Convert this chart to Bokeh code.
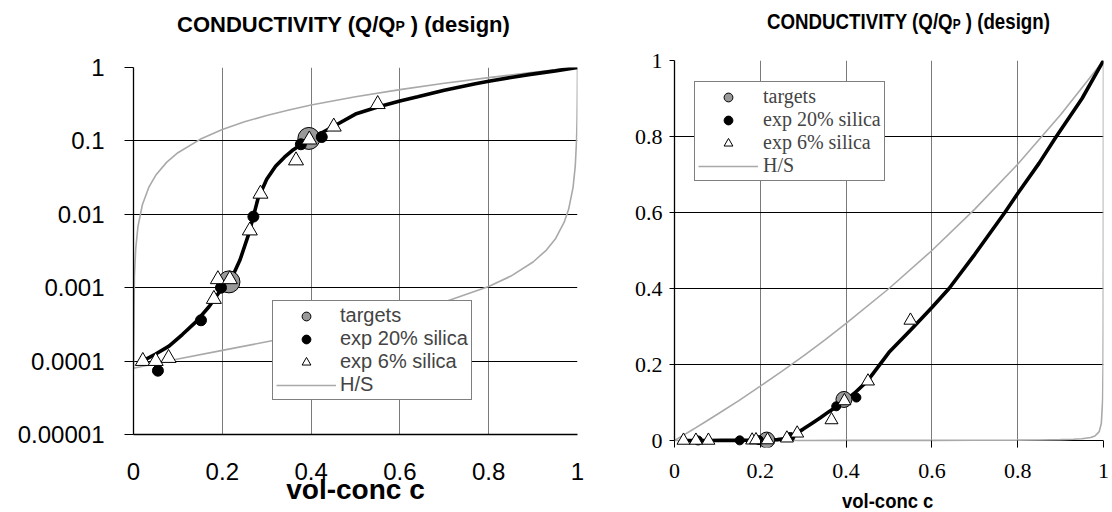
from bokeh.plotting import figure
from bokeh.models import Range1d, FixedTicker, Legend, LegendItem, Div
from bokeh.embed import file_html
from bokeh.resources import INLINE

# ---------------- data ----------------
design_c = [0.02, 0.05, 0.08, 0.11, 0.14, 0.17, 0.20, 0.22, 0.24, 0.26, 0.28, 0.30,
            0.32, 0.34, 0.36, 0.38, 0.40, 0.42, 0.45, 0.50, 0.55, 0.60, 0.64, 0.70,
            0.77, 0.80, 0.85, 0.89, 0.95, 1.00]
design_q = [1.0e-4, 1.25e-4, 1.6e-4, 2.3e-4, 3.4e-4, 5.5e-4, 1.0e-3, 1.3e-3, 2.4e-3,
            5.5e-3, 0.016, 0.030, 0.045, 0.060, 0.076, 0.091, 0.107, 0.125, 0.157,
            0.232, 0.290, 0.350, 0.400, 0.490, 0.600, 0.650, 0.730, 0.800, 0.900, 1.000]

hs_upper_c = [0.0, 0.002, 0.005, 0.01, 0.02, 0.035, 0.05, 0.075, 0.1, 0.15, 0.2, 0.25,
              0.3, 0.35, 0.4, 0.5, 0.6, 0.7, 0.8, 0.9, 1.0]
hs_upper_q = [8e-5, 1.4e-3, 3.4e-3, 6.8e-3, 0.0135, 0.0237, 0.034, 0.0514, 0.069, 0.105,
              0.143, 0.182, 0.222, 0.264, 0.308, 0.400, 0.500, 0.609, 0.727, 0.857, 1.0]

hs_lower_c = [0.0, 0.1, 0.2, 0.3, 0.4, 0.5, 0.6, 0.7, 0.8, 0.85, 0.9, 0.93, 0.95, 0.97,
              0.98, 0.99, 0.995, 0.998, 0.999, 0.9995, 0.9998, 1.0]
hs_lower_q = [8e-5, 1.07e-4, 1.4e-4, 1.83e-4, 2.4e-4, 3.2e-4, 4.4e-4, 6.4e-4, 1.04e-3,
              1.44e-3, 2.24e-3, 3.26e-3, 4.6e-3, 7.8e-3, 0.0117, 0.0233, 0.0456, 0.107,
              0.193, 0.324, 0.545, 1.0]

target_c = [0.215, 0.395]
target_q = [0.0012, 0.108]

exp20_c = [0.055, 0.152, 0.197, 0.270, 0.377, 0.424]
exp20_q = [7.4e-5, 3.6e-4, 1.0e-3, 0.0093, 0.090, 0.113]

exp6_c = [0.021, 0.050, 0.079, 0.181, 0.190, 0.217, 0.262, 0.286, 0.366, 0.396, 0.451, 0.550]
exp6_q = [1.0e-4, 1.0e-4, 1.1e-4, 7.0e-4, 1.3e-3, 1.3e-3, 6.0e-3, 0.019, 0.054, 0.104, 0.156, 0.316]

x_ticks = [0, 0.2, 0.4, 0.6, 0.8, 1.0]
x_tick_labels = ["0", "0.2", "0.4", "0.6", "0.8", "1"]
log_ticks = [1e-5, 1e-4, 1e-3, 1e-2, 1e-1, 1.0]
log_tick_labels = ["0.00001", "0.0001", "0.001", "0.01", "0.1", "1"]
lin_ticks = [0, 0.2, 0.4, 0.6, 0.8, 1.0]
lin_tick_labels = ["0", "0.2", "0.4", "0.6", "0.8", "1"]

legend_labels = ["targets", "exp 20% silica", "exp 6% silica", "H/S"]
title_main = "CONDUCTIVITY (Q/Q"
title_sub = "P"
title_tail = " ) (design)"
x_label = "vol-conc c"

HS_COLOR = "#a9a9a9"
GRID_V = "#7a7a7a"
ARIAL = "Liberation Sans"
NARROW = "Liberation Sans Narrow"


def add_series(p, t_size, d_size, tri_size):
    r_hu = p.line(hs_upper_c, hs_upper_q, line_color=HS_COLOR, line_width=1.6)
    p.line(hs_lower_c, hs_lower_q, line_color=HS_COLOR, line_width=1.6)
    p.line(design_c, design_q, line_color="black", line_width=3.6)
    r_t = p.scatter(target_c, target_q, marker="circle", size=t_size, fill_color="#999999",
                    line_color="black", line_width=1)
    r_20 = p.scatter(exp20_c, exp20_q, marker="circle", size=d_size, fill_color="black",
                     line_color="black")
    r_6 = p.scatter(exp6_c, exp6_q, marker="triangle", size=tri_size, fill_color="white",
                    line_color="black", line_width=1)
    return [r_t, r_20, r_6, r_hu]


def style_common(p):
    p.outline_line_color = None
    p.background_fill_color = "white"
    p.border_fill_color = "white"
    for ax in p.axis:
        ax.axis_line_color = "black"
        ax.axis_line_width = 1.3
        ax.major_tick_line_color = "black"
        ax.minor_tick_line_color = None
        ax.major_label_text_color = "black"
        ax.axis_label_text_color = "black"
        ax.axis_label_text_font_style = "bold"


def text_div(inner, size, scale, left, top, width, height=28, lh=26):
    html = ('<div style="display:inline-block;font-family:\'Liberation Sans\';font-weight:bold;'
            'font-size:%s;line-height:%dpx;white-space:nowrap;color:#000;margin:0;padding:0;'
            'transform:scaleX(%s);transform-origin:0 0">%s</div>' % (size, lh, scale, inner))
    return Div(text=html, width=width, height=height, margin=0,
               styles={"position": "absolute", "left": "%dpx" % left, "top": "%dpx" % top})


def title_html(sub_shift):
    return ('%s<span style="font-size:14px;position:relative;top:%dpx">%s</span>%s'
            % (title_main, sub_shift, title_sub, title_tail))


# ---------------- left chart (log) ----------------
p1 = figure(width=620, height=512, x_range=Range1d(0, 1), y_range=Range1d(1e-5, 1),
            y_axis_type="log", output_backend="svg", toolbar_location=None,
            min_border_left=133, min_border_right=43, min_border_top=67, min_border_bottom=78)
style_common(p1)
p1.xaxis.ticker = FixedTicker(ticks=x_ticks)
p1.xaxis.major_label_overrides = dict(zip(x_ticks, x_tick_labels))
p1.yaxis.ticker = FixedTicker(ticks=log_ticks, minor_ticks=[])
p1.yaxis.major_label_overrides = dict(zip(log_ticks, log_tick_labels))
for ax in p1.axis:
    ax.major_label_text_font = ARIAL
    ax.major_label_text_font_size = "24px"
p1.xaxis.major_tick_out = 0
p1.xaxis.major_tick_in = 0
p1.xaxis.major_label_standoff = 28
p1.xaxis.axis_label = x_label
p1.xaxis.axis_label_text_font = ARIAL
p1.xaxis.axis_label_text_font_size = "28px"
p1.xaxis.axis_label_standoff = -9
p1.yaxis.major_tick_out = 9
p1.yaxis.major_tick_in = 0
p1.yaxis.major_label_standoff = 20
p1.xgrid.ticker = FixedTicker(ticks=x_ticks[1:])
p1.ygrid.ticker = FixedTicker(ticks=log_ticks[1:], minor_ticks=[])
p1.xgrid.grid_line_color = GRID_V
p1.ygrid.grid_line_color = "black"

r1 = add_series(p1, 22, 11, 15)
leg1 = Legend(items=[LegendItem(label=l, renderers=[r]) for l, r in zip(legend_labels, r1)],
              location=(139, 34), padding=3, spacing=0, margin=0, glyph_width=60,
              glyph_height=22, label_height=22, label_standoff=4,
              label_text_font=ARIAL, label_text_font_size="20px",
              border_line_color="black", border_line_width=1, background_fill_alpha=1)
p1.add_layout(leg1)
p1.styles = {"position": "absolute", "left": "0px", "top": "0px"}

# ---------------- right chart (linear) ----------------
p2 = figure(width=490, height=512, x_range=Range1d(0, 1), y_range=Range1d(-0.0184, 1),
            output_backend="svg", toolbar_location=None,
            min_border_left=54, min_border_right=7, min_border_top=60, min_border_bottom=65)
style_common(p2)
p2.xaxis.ticker = FixedTicker(ticks=x_ticks)
p2.xaxis.major_label_overrides = dict(zip(x_ticks, x_tick_labels))
p2.xaxis.axis_line_color = None
p2.yaxis.ticker = FixedTicker(ticks=lin_ticks)
p2.yaxis.major_label_overrides = dict(zip(lin_ticks, lin_tick_labels))
p2.yaxis.bounds = (0, 1)
for ax in p2.axis:
    ax.major_label_text_font = NARROW
    ax.major_label_text_font_size = "22px"
p2.xaxis.major_tick_out = 0
p2.xaxis.major_tick_in = 7
p2.xaxis.major_label_standoff = 16
p2.yaxis.major_tick_out = 5
p2.yaxis.major_tick_in = 0
p2.yaxis.major_label_standoff = 7
p2.xgrid.ticker = FixedTicker(ticks=x_ticks[1:])
p2.ygrid.ticker = FixedTicker(ticks=lin_ticks)
p2.xgrid.grid_line_color = GRID_V
p2.ygrid.grid_line_color = "black"

r2 = add_series(p2, 16, 9, 13)
leg2 = Legend(items=[LegendItem(label=l, renderers=[r]) for l, r in zip(legend_labels, r2)],
              location=(20, 266), padding=3, spacing=0, margin=0, glyph_width=60,
              glyph_height=22, label_height=22, label_standoff=5,
              label_text_font=NARROW, label_text_font_size="20px",
              border_line_color="black", border_line_width=1, background_fill_alpha=1)
p2.add_layout(leg2)
p2.styles = {"position": "absolute", "left": "620px", "top": "0px"}

div1 = text_div(title_html(-1), "22px", 1, 177, 12, 380)
div2 = text_div(title_html(0), "22px", 0.85, 767, 9, 320)
div3 = text_div(x_label, "21px", 0.88, 842, 490, 120, height=22, lh=22)

open("out.html", "w").write(file_html([p1, p2, div1, div2, div3], INLINE))
